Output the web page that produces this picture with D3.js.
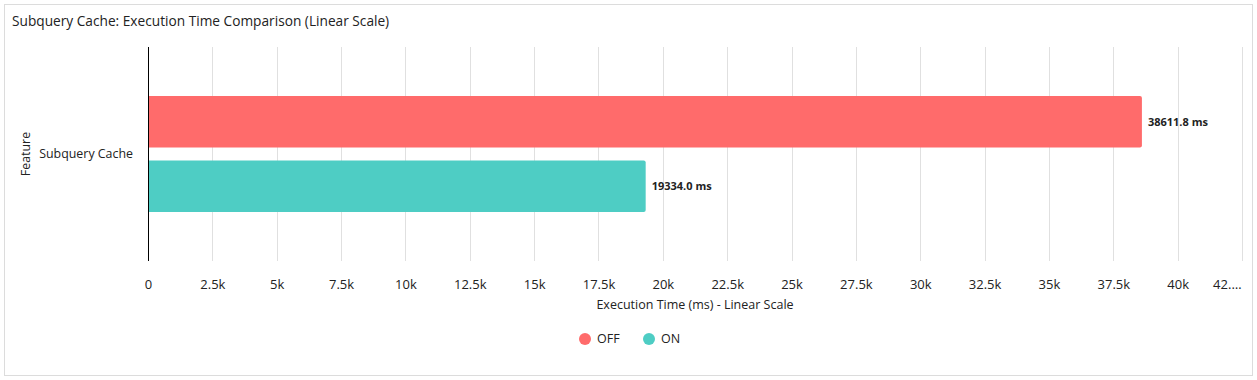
<!DOCTYPE html>
<html>
<head>
<meta charset="utf-8">
<script src="https://cdn.jsdelivr.net/npm/d3@7"></script>
<style>
  body { margin: 0; background: #fff; font-family: "Open Sans", "Noto Sans", sans-serif; }
  text { fill: #222; }
</style>
</head>
<body>
<div id="chart"></div>
<script>
// Chart data
var categories = ["Subquery Cache"];
var seriesNames = ["OFF", "ON"];
var offValues = [38611.8];
var onValues = [19334.0];
var tickValues = [0, 2500, 5000, 7500, 10000, 12500, 15000, 17500, 20000, 22500, 25000, 27500, 30000, 32500, 35000, 37500, 40000, 42500];
var tickLabels = ["0", "2.5k", "5k", "7.5k", "10k", "12.5k", "15k", "17.5k", "20k", "22.5k", "25k", "27.5k", "30k", "32.5k", "35k", "37.5k", "40k", "42.…"];

var colors = { OFF: "#FF6B6B", ON: "#4ECDC4" };

var svgWidth = 1257;
var svgHeight = 380;
var margin = { top: 47, bottom: 119, left: 148, right: 15 };
var chartWidth = svgWidth - margin.left - margin.right;
var chartHeight = svgHeight - margin.top - margin.bottom;

var svg = d3.select("#chart")
  .append("svg")
  .attr("width", svgWidth)
  .attr("height", svgHeight);

// outer panel border
svg.append("rect")
  .attr("x", 4.5).attr("y", 4.5)
  .attr("width", 1248).attr("height", 371)
  .attr("fill", "none")
  .attr("stroke", "#dcdcdc");

svg.append("text")
  .attr("x", 12).attr("y", 26)
  .style("font-size", "13.7px")
  .text("Subquery Cache: Execution Time Comparison (Linear Scale)");

var chartGroup = svg.append("g")
  .attr("transform", `translate(${margin.left}, ${margin.top})`);

var xScale = d3.scaleLinear().domain([0, 42500]).range([0, 1094]);

var yScale = d3.scaleBand().domain(categories).range([0, chartHeight]);
var inner = d3.scaleBand().domain(seriesNames)
  .range([yScale.bandwidth() * 0.229, yScale.bandwidth() * 0.771])
  .paddingInner(0.2);

// gridlines
chartGroup.append("g")
  .selectAll("line")
  .data(tickValues.slice(1))
  .enter()
  .append("line")
  .attr("x1", d => Math.round(xScale(d)) + 0.5)
  .attr("x2", d => Math.round(xScale(d)) + 0.5)
  .attr("y1", 0)
  .attr("y2", chartHeight)
  .attr("stroke", "#e0e0e0");

// x axis
var bottomAxis = d3.axisBottom(xScale)
  .tickValues(tickValues)
  .tickFormat((d, i) => tickLabels[i])
  .tickSize(0)
  .tickPadding(19);

var xAxis = chartGroup.append("g")
  .attr("transform", `translate(0,${chartHeight})`)
  .call(bottomAxis);
xAxis.select(".domain").remove();
xAxis.selectAll("text")
  .style("font-size", "13px")
  .style("font-family", "\"Open Sans\", \"Noto Sans\", sans-serif")
  .attr("fill", "#222");
// last label is squeezed inside the plot edge
xAxis.selectAll(".tick").filter(d => d === 42500).select("text")
  .attr("text-anchor", "end")
  .attr("x", -1);

// y axis
chartGroup.append("line")
  .attr("x1", 0.5).attr("x2", 0.5)
  .attr("y1", 0).attr("y2", chartHeight)
  .attr("stroke", "#000");

chartGroup.selectAll(".catLabel")
  .data(categories)
  .enter()
  .append("text")
  .attr("x", -15)
  .attr("y", d => yScale(d) + yScale.bandwidth() / 2)
  .attr("dy", "0.35em")
  .attr("text-anchor", "end")
  .style("font-size", "12.4px")
  .text(d => d);

// bars
var rows = [];
categories.forEach(function(c, i) {
  rows.push({ cat: c, series: "OFF", value: offValues[i] });
  rows.push({ cat: c, series: "ON", value: onValues[i] });
});

function barPath(w, h, r) {
  return `M0,0 H${w - r} Q${w},0 ${w},${r} V${h - r} Q${w},${h} ${w - r},${h} H0 Z`;
}

var bars = chartGroup.selectAll(".bar")
  .data(rows)
  .enter()
  .append("g")
  .attr("transform", d => `translate(1,${yScale(d.cat) + inner(d.series)})`);

bars.append("path")
  .attr("d", d => barPath(xScale(d.value) - 1, inner.bandwidth(), 2))
  .attr("fill", d => colors[d.series]);

bars.append("text")
  .attr("x", d => xScale(d.value) + 5)
  .attr("y", inner.bandwidth() / 2)
  .attr("dy", "0.35em")
  .style("font-size", "11px")
  .style("font-weight", "bold")
  .attr("fill", "#1a1a1a")
  .text(d => d.value.toFixed(1) + " ms");

// axis titles
svg.append("text")
  .attr("x", margin.left + xScale(42500) / 2)
  .attr("y", 309)
  .attr("text-anchor", "middle")
  .style("font-size", "12.5px")
  .text("Execution Time (ms) - Linear Scale");

svg.append("text")
  .attr("transform", `translate(30,${margin.top + chartHeight / 2}) rotate(-90)`)
  .attr("text-anchor", "middle")
  .style("font-size", "12.4px")
  .text("Feature");

// legend
var legend = svg.append("g").attr("transform", "translate(585,339)");
var legendItems = legend.selectAll("g")
  .data(seriesNames)
  .enter()
  .append("g")
  .attr("transform", (d, i) => `translate(${i * 64},0)`);
legendItems.append("circle")
  .attr("r", 6)
  .attr("fill", d => colors[d]);
legendItems.append("text")
  .attr("x", 12)
  .attr("dy", "0.35em")
  .style("font-size", "12.5px")
  .text(d => d);
</script>
</body>
</html>
